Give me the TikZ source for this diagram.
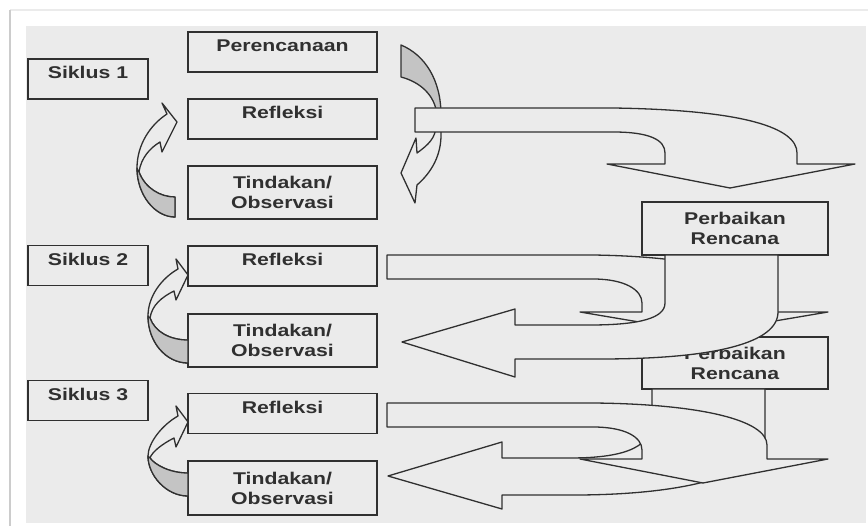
\documentclass[tikz,border=0pt]{standalone}
\usepackage{fontspec}
\setmainfont{Liberation Sans}[FakeStretch=1.25]
\definecolor{bgcol}{HTML}{EBEBEB}
\definecolor{shade}{HTML}{C4C4C4}
\definecolor{ink}{HTML}{303030}
\newcommand\boxfont{\fontsize{17}{20}\selectfont\bfseries}

\begin{document}
\begin{tikzpicture}[x=1pt, y=-1pt,
    box/.style={draw=ink, line width=1.5pt, fill=bgcol, text=ink, font=\boxfont,
      inner sep=0pt, text height=20pt, text depth=20pt},
    box2/.style={draw=ink, line width=1.5pt, fill=bgcol, text=ink, font=\boxfont,
      inner sep=0pt, align=center},
    blk/.style={draw=ink, line width=1.3pt, fill=bgcol, line join=round},
    back/.style={draw=ink, line width=1.3pt, fill=shade, line join=round}]

        % frame
        \fill[white] (0,0) rectangle (868,526);
        \useasboundingbox (0,0) rectangle (868,526);
        \draw[black!8, line width=1.2pt] (10,10) -- (868,10);
        \draw[black!20, line width=2pt] (10,10) -- (10,526);
        \fill[bgcol] (26,26) rectangle (866,523);

        % curved arrow beside Perencanaan
        \filldraw[back] (401,45) .. controls (425,55) and (441,80) .. (441,115)
          -- (437,115) .. controls (435,95) and (420,82) .. (401,77) -- cycle;
        \filldraw[blk] (441,125) -- (441,135) .. controls (441,155) and (432,172) .. (417,185)
          -- (415,203) -- (401,173) -- (416,138) -- (417,153)
          .. controls (428,145) and (436,138) .. (436,125) -- cycle;

        % left column
        \node[box, minimum width=120pt] (sik1) at (88,79) {Siklus 1};
        \node[box, minimum width=189pt] (plan1) at (282.5,52) {Perencanaan};
        \node[box, minimum width=189pt] (ref1) at (282.5,119) {Refleksi};
        \node[box2, minimum width=189pt, minimum height=53pt] (act1) at (282.5,192.5)
          {Tindakan/\\Observasi};

        \node[box, minimum width=120pt] (sik2) at (88,265.5) {Siklus 2};
        \node[box, minimum width=189pt] (ref2) at (282.5,266) {Refleksi};
        \node[box2, minimum width=189pt, minimum height=53pt] (act2) at (282.5,340.5)
          {Tindakan/\\Observasi};

        \node[box, minimum width=120pt] (sik3) at (88,400.5) {Siklus 3};
        \node[box, minimum width=189pt] (ref3) at (282.5,413.5) {Refleksi};
        \node[box2, minimum width=189pt, minimum height=54pt] (act3) at (282.5,488)
          {Tindakan/\\Observasi};

        % cycle arrows, left
        \filldraw[blk] (167,114) .. controls (150,125) and (137,145) .. (137,168)
          .. controls (137,195) and (155,217) .. (175,217) -- (175,197)
          .. controls (160,197) and (145,188) .. (139,172)
          .. controls (141,158) and (150,148) .. (160,142)
          -- (162,152) -- (177,122) -- (162,103) -- cycle;
        \filldraw[back] (137,168) .. controls (137,195) and (155,217) .. (175,217)
          -- (175,197) .. controls (160,197) and (145,188) .. (139,172) -- cycle;

        \foreach \dh/\dm/\dt in {0/0/0, 147/140/133} {
          \filldraw[blk] (178,{269+\dh}) .. controls (162,{278+\dh}) and (148,{296+\dh}) .. (148,{316+\dm})
            .. controls (148,{342+\dt}) and (166,{363+\dt}) .. (188,{363+\dt}) -- (188,{340+\dt})
            .. controls (170,{340+\dt}) and (155,{332+\dt}) .. (150,{318+\dm})
            .. controls (152,{305+\dh}) and (162,{297+\dh}) .. (174,{291+\dh})
            -- (176,{300+\dh}) -- (188,{275+\dh}) -- (176,{259+\dh}) -- cycle;
          \filldraw[back] (148,{316+\dm}) .. controls (148,{342+\dt}) and (166,{363+\dt}) .. (188,{363+\dt})
            -- (188,{340+\dt}) .. controls (170,{340+\dt}) and (155,{332+\dt}) .. (150,{318+\dm}) -- cycle;
        }

        % Refleksi 1 to Perbaikan Rencana
        \filldraw[blk] (415,108) -- (613,108) .. controls (745,110) and (797,128) .. (797,153)
          -- (797,164) -- (855,164) -- (730,188) -- (607,164) -- (665,164) -- (665,153)
          .. controls (665,140) and (650,132) .. (613,132) -- (415,132) -- cycle;

        \node[box2, minimum width=186pt, minimum height=53pt] (fix1) at (735,228.5)
          {Perbaikan\\Rencana};
        \node[box2, minimum width=186pt, minimum height=52pt] (fix2) at (735,363)
          {Perbaikan\\Rencana};

        % siklus 2
        \filldraw[blk] (387,255) -- (593,255) .. controls (720,257) and (766,280) .. (766,303)
          -- (766,312) -- (828,312) -- (704,333) -- (580,312) -- (642,312) -- (642,303)
          .. controls (642,290) and (625,279) .. (593,279) -- (387,279) -- cycle;
        \filldraw[blk] (665,255) -- (665,303) .. controls (665,318) and (640,325) .. (590,325)
          -- (515,325) -- (515,309) -- (402,342) -- (515,377) -- (515,359) -- (600,359)
          .. controls (715,359) and (778,343) .. (778,312) -- (778,255) -- cycle;

        % siklus 3
        \filldraw[blk] (652,389) -- (652,420) .. controls (652,445) and (630,458) .. (570,458)
          -- (502,458) -- (502,442) -- (388,476) -- (502,509) -- (502,495) -- (580,495)
          .. controls (700,494) and (765,470) .. (765,437) -- (765,389) -- cycle;
        \filldraw[blk] (387,403) -- (593,403) .. controls (700,404) and (767,420) .. (767,445)
          -- (767,459) -- (828,459) -- (703,483) -- (580,459) -- (642,459) -- (642,450)
          .. controls (642,437) and (625,427) .. (593,427) -- (387,427) -- cycle;
      \end{tikzpicture}
\end{document}
